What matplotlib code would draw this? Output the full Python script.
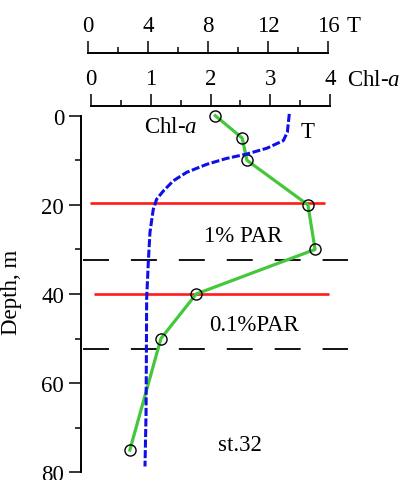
import matplotlib
matplotlib.use('Agg')
import matplotlib.pyplot as plt
import numpy as np

plt.rcParams['font.family'] = ['Liberation Serif', 'DejaVu Serif']
plt.rcParams['font.size'] = 16.5
plt.rcParams['mathtext.fontset'] = 'custom'
plt.rcParams['mathtext.rm'] = 'Liberation Serif'
plt.rcParams['mathtext.it'] = 'Liberation Serif:italic'

# chlorophyll profile vs depth (m)
chl_depth = [0, 5, 10, 20, 30, 40, 50, 75]
chl = [2.08, 2.53, 2.61, 3.63, 3.75, 1.76, 1.17, 0.65]

# temperature profile
t_depth = [-0.4, 3.7, 5.6, 7.3, 8.6, 9.6, 10.9, 12.7, 14.6, 16.9, 18.7, 21, 26.2, 32.9, 41.2, 55, 66.7, 78.7]
temp = [13.4, 13.27, 13.0, 11.9, 10.56, 9.2, 7.9, 6.56, 5.67, 5.0, 4.56, 4.33, 4.11, 4.0, 3.89, 3.87, 3.85, 3.78]

par_depths = [19.5, 40]        # red lines (1% and 0.1% PAR)
layer_depths = [32.4, 52.3]    # black dashed lines

W, H = 405, 481
fig = plt.figure(figsize=(W / 100, H / 100), dpi=100)

def fx(px):
    return px / W

def fy(px):
    return 1 - px / H

# main axes
ax = fig.add_axes([fx(81), fy(473.3), fx(348) - fx(81), fy(116.7) - fy(473.3)])
ax.set_xlim(-0.1674, 4.301)
ax.set_ylim(80, 0)
for s in ['top', 'right', 'bottom']:
    ax.spines[s].set_visible(False)
ax.spines['left'].set_linewidth(1.4)
ax.set_xticks([])
ax.set_yticks([0, 20, 40, 60, 80])
ax.set_yticks([10, 30, 50, 70], minor=True)
ax.tick_params(axis='y', which='major', length=8.6, width=1.1, pad=3.6)
ax.tick_params(axis='y', which='minor', length=4.3, width=1.1)
ax.set_ylabel('Depth, m')
ax.yaxis.set_label_coords(-0.221, 0.508)

# PAR lines
ax.hlines(par_depths[0], -0.02, 3.92, color='#ff1a1a', lw=1.9)
ax.hlines(par_depths[1], 0.05, 3.98, color='#ff1a1a', lw=1.9)
lw_d = 1.3
for d in layer_depths:
    ax.axhline(d, xmin=0.008, xmax=1, color='black', lw=lw_d,
               linestyle=(0, (18.7 / lw_d, 15.8 / lw_d)), clip_on=False)

# temperature on a twin x axis
axt = ax.twiny()
axt.set_xlim((81 - 88.3) / 15, (348 - 88.3) / 15)
axt.set_ylim(80, 0)
axt.axis('off')
lw_b = 2.2
axt.plot(temp, t_depth, color='#1010e6', lw=lw_b,
         linestyle=(0, (5.8 / lw_b, 1.8 / lw_b)), clip_on=False)

# chlorophyll
ax.plot(chl, chl_depth, color='#44c83a', lw=2.3, zorder=4, clip_on=False)
ax.plot(chl, chl_depth, 'o', mfc='none', mec='black', ms=8, mew=1.0, zorder=5, clip_on=False)

ax.text(1.34, 2.5, 'Chl-$\\mathit{a}$', ha='center', va='center')
ax.text(3.63, 3.5, 'T', ha='center', va='center')
ax.text(2.54, 26.8, '1% PAR', ha='center', va='center')
ax.text(2.73, 46.8, '0.1%PAR', ha='center', va='center')
ax.text(2.49, 73.8, 'st.32', ha='center', va='center')

def scale_axis(left, right, ypx, lim, major, minor):
    a = fig.add_axes([fx(left), fy(ypx), fx(right) - fx(left), 0.0001])
    a.set_xlim(*lim)
    a.set_yticks([])
    for s in ['bottom', 'left', 'right']:
        a.spines[s].set_visible(False)
    a.spines['top'].set_linewidth(1.4)
    a.xaxis.tick_top()
    a.set_xticks(major)
    a.set_xticks(minor, minor=True)
    a.tick_params(axis='x', which='major', length=8.6, width=1.1, pad=3.5)
    a.tick_params(axis='x', which='minor', length=4.3, width=1.1)
    a.patch.set_visible(False)
    return a

scale_axis(88.3, 328.3, 54, (0, 16), [0, 4, 8, 12, 16], [2, 6, 10, 14])
scale_axis(91, 330, 106.7, (0, 4), [0, 1, 2, 3, 4], [0.5, 1.5, 2.5, 3.5])

fig.text(fx(347), fy(27), 'T', ha='left', va='center')
fig.text(fx(347), fy(80), 'Chl-$\\mathit{a}$', ha='left', va='center')

fig.savefig('out.png', dpi=100)
